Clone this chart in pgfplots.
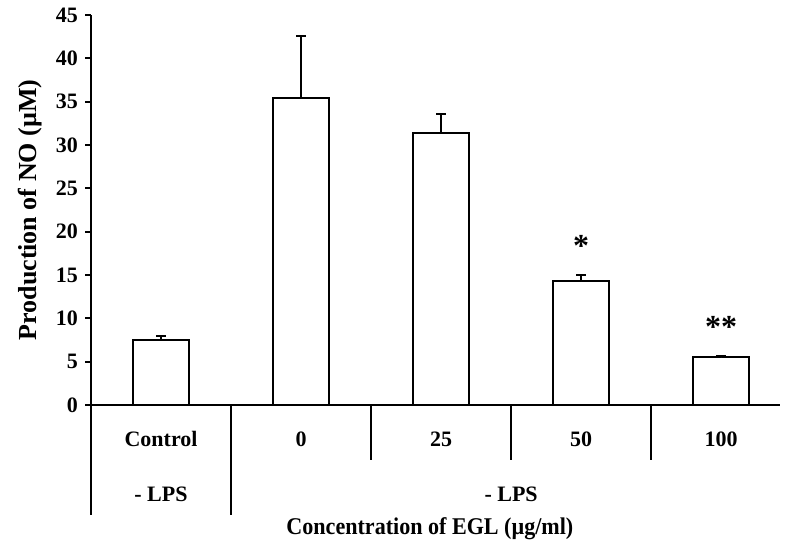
\documentclass[border=0pt]{standalone}
\usepackage{fontspec}
\setmainfont{Liberation Serif}
\usepackage{pgfplots}
\pgfplotsset{compat=1.18}

\begin{document}
\begin{tikzpicture}
\begin{axis}[
  scale only axis, width=344.5pt, height=195pt,
  xmin=-0.5, xmax=4.42, ymin=0, ymax=45,
  ytick={0,5,...,45},
  xtick=\empty,
  axis x line=bottom, axis y line=left,
  axis line style={line width=1.2pt, -},
  tick align=outside, major tick length=3pt,
  ytick style={line width=1pt, black},
  /pgf/number format/assume math mode=true,
  yticklabel style={font=\bfseries\fontsize{11}{13}\selectfont},
  ylabel={Production of NO (µM)},
  ylabel style={font=\bfseries\fontsize{13}{15}\selectfont},
  clip=false,
]
% mean +- SD (upper bar only)
\addplot[ybar, bar width=0.4, fill=white, draw=black, line width=1pt,
  error bars/.cd, y dir=plus, y explicit,
  error bar style={line width=1pt},
  error mark options={rotate=90, mark size=2.5pt, line width=1pt}]
  coordinates {
  (0,7.5) +- (0,0.5)
  (1,35.4) +- (0,7.2)
  (2,31.4) +- (0,2.2)
  (3,14.3) +- (0,0.7)
  (4,5.5) +- (0,0.1)
};

% significance marks
\node[font=\bfseries\fontsize{16}{18}\selectfont] at (axis cs:3,18.4) {*};
\node[font=\bfseries\fontsize{16}{18}\selectfont] at (axis cs:4,9.0) {**};

% table under the axis
\draw[line width=1.2pt] (axis cs:-0.5,0) -- ([yshift=-55pt]axis cs:-0.5,0);
\draw[line width=1.2pt] (axis cs:0.5,0) -- ([yshift=-55pt]axis cs:0.5,0);
\draw[line width=1.2pt] (axis cs:1.5,0) -- ([yshift=-27.5pt]axis cs:1.5,0);
\draw[line width=1.2pt] (axis cs:2.5,0) -- ([yshift=-27.5pt]axis cs:2.5,0);
\draw[line width=1.2pt] (axis cs:3.5,0) -- ([yshift=-27.5pt]axis cs:3.5,0);

\tikzset{lab/.style={font=\bfseries\fontsize{11}{13}\selectfont}}
\node[lab] at ([yshift=-17pt]axis cs:0,0) {Control};
\node[lab] at ([yshift=-17pt]axis cs:1,0) {0};
\node[lab] at ([yshift=-17pt]axis cs:2,0) {25};
\node[lab] at ([yshift=-17pt]axis cs:3,0) {50};
\node[lab] at ([yshift=-17pt]axis cs:4,0) {100};
\node[lab] at ([yshift=-44.5pt]axis cs:0,0) {- LPS};
\node[lab] at ([yshift=-44.5pt]axis cs:2.5,0) {- LPS};
\node[font=\bfseries\fontsize{12}{14}\selectfont] at ([yshift=-62pt]axis cs:1.92,0)
  {\scalebox{0.92}[1]{Concentration of EGL (µg/ml)}};
\end{axis}
\pgfresetboundingbox
\path[use as bounding box] (-45.5pt,-72pt) rectangle (347pt,202.5pt);
\end{tikzpicture}
\end{document}
